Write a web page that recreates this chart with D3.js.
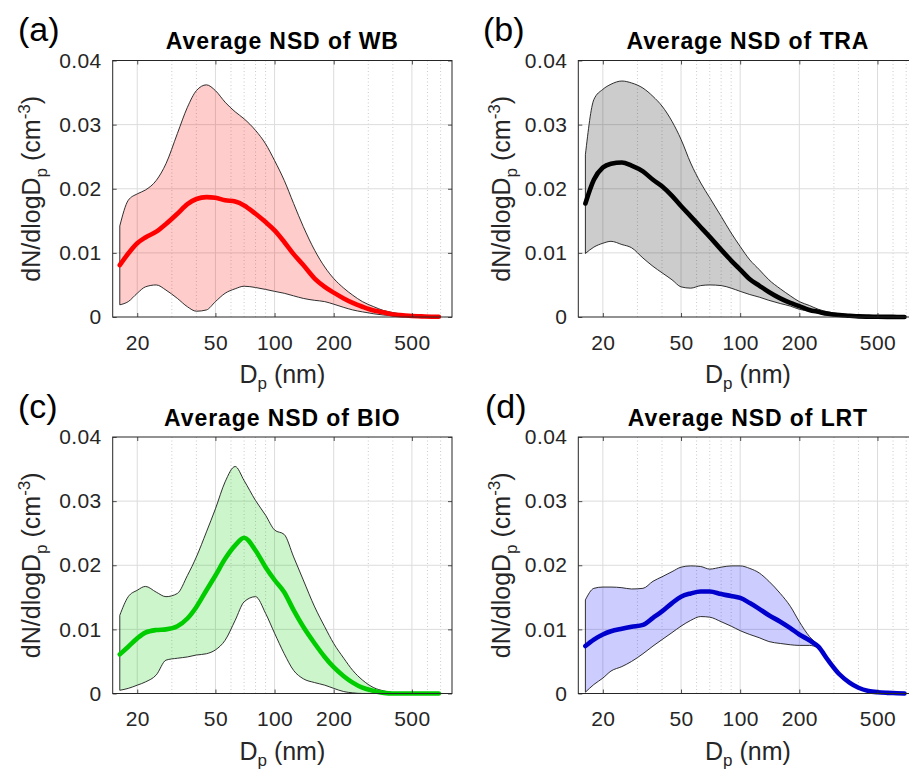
<!DOCTYPE html>
<html>
<head>
<meta charset="utf-8">
<script src="https://cdn.jsdelivr.net/npm/d3@7"></script>
<style>
  body { margin: 0; background: #fff; }
  svg { display: block; font-family: "Liberation Sans", Arial, Helvetica, sans-serif; }
</style>
</head>
<body>
<div id="chart"></div>
<script>
// particle diameter (nm)
const diameters = [16.3, 18, 20, 22, 25, 28, 32, 36, 40, 45, 50, 56, 63, 70, 80, 90, 100, 112, 125, 140,
                   160, 180, 200, 225, 250, 280, 320, 360, 400, 450, 500, 560, 630, 686];

// (a) WB
const wbMean  = [0.0081, 0.0099, 0.0115, 0.0124, 0.0133, 0.0145, 0.0161, 0.0176, 0.0184, 0.0187, 0.0186, 0.0182, 0.0180, 0.0174, 0.0161, 0.0148, 0.0135, 0.0117, 0.0098, 0.0081,
                 0.0060, 0.0047, 0.0038, 0.0029, 0.0022, 0.0016, 0.0010, 0.0007, 0.0004, 0.00026, 0.00015, 0.0001, 0.00005, 0.00003];
const wbUpper = [0.0142, 0.0182, 0.0192, 0.0198, 0.0213, 0.0239, 0.0286, 0.0327, 0.0353, 0.0362, 0.0353, 0.0335, 0.0320, 0.0309, 0.0291, 0.0270, 0.0244, 0.0213, 0.0177, 0.0141,
                 0.0104, 0.0078, 0.0060, 0.0045, 0.0034, 0.0024, 0.0016, 0.0010, 0.0007, 0.0004, 0.0002, 0.0001, 0.00005, 0.00003];
const wbLower = [0.0019, 0.0024, 0.0037, 0.0047, 0.0050, 0.0042, 0.0029, 0.0016, 0.0009, 0.0011, 0.0024, 0.0037, 0.0044, 0.0048, 0.0046, 0.0043, 0.0040, 0.0037, 0.0033, 0.0029,
                 0.0026, 0.0024, 0.0020, 0.0015, 0.0011, 0.0008, 0.0005, 0.0003, 0.0002, 0.0001, 0.00005, 0.00002, 0.00001, 0];

// (b) TRA
const traMean  = [0.0177, 0.0214, 0.0233, 0.0239, 0.0241, 0.0236, 0.0227, 0.0214, 0.0204, 0.0189, 0.0173, 0.0157, 0.0140, 0.0125, 0.0105, 0.0088, 0.0074, 0.0059, 0.0049, 0.0039,
                  0.0029, 0.0022, 0.0017, 0.0011, 0.0008, 0.0005, 0.0003, 0.0002, 0.0001, 0.00006, 0.00004, 0.00002, 0.00001, 0];
const traUpper = [0.0253, 0.0339, 0.0355, 0.0363, 0.0368, 0.0365, 0.0357, 0.0344, 0.0329, 0.0305, 0.0277, 0.0240, 0.0209, 0.0186, 0.0157, 0.0131, 0.0110, 0.0089, 0.0074, 0.0058,
                  0.0044, 0.0033, 0.0024, 0.0018, 0.0012, 0.0008, 0.0005, 0.0003, 0.0002, 0.0001, 0.00005, 0.00003, 0.00002, 0.00001];
const traLower = [0.0099, 0.0109, 0.0115, 0.0118, 0.0113, 0.0108, 0.0092, 0.0079, 0.0069, 0.0058, 0.0047, 0.0045, 0.0049, 0.0050, 0.0049, 0.0045, 0.0040, 0.0035, 0.0031, 0.0026,
                  0.0021, 0.0017, 0.0012, 0.0009, 0.0006, 0.0004, 0.0003, 0.0002, 0.0001, 0.00005, 0.00003, 0.00002, 0.00001, 0];

// (c) BIO
const bioMean  = [0.0061, 0.0073, 0.0086, 0.0095, 0.0099, 0.0100, 0.0105, 0.0117, 0.0135, 0.0161, 0.0184, 0.0210, 0.0231, 0.0243, 0.0223, 0.0197, 0.0177, 0.0158, 0.0130, 0.0104,
                  0.0078, 0.0057, 0.0041, 0.0027, 0.0017, 0.0009, 0.0004, 0.0001, 0, 0, 0, 0, 0, 0];
const bioUpper = [0.0122, 0.0151, 0.0161, 0.0167, 0.0158, 0.0151, 0.0156, 0.0184, 0.0213, 0.0252, 0.0288, 0.0330, 0.0354, 0.0332, 0.0301, 0.0278, 0.0255, 0.0248, 0.0213, 0.0177,
                  0.0135, 0.0104, 0.0078, 0.0055, 0.0036, 0.0021, 0.0009, 0.0004, 0.0001, 0, 0, 0, 0, 0];
const bioLower = [0.0005, 0.0008, 0.0013, 0.0018, 0.0029, 0.0052, 0.0055, 0.0057, 0.0060, 0.0062, 0.0068, 0.0083, 0.0114, 0.0143, 0.0151, 0.0125, 0.0094, 0.0062, 0.0036, 0.0023,
                  0.0017, 0.0013, 0.0008, 0.0003, 0.0001, 0, 0, 0, 0, 0, 0, 0, 0, 0];

// (d) LRT
const lrtMean  = [0.0074, 0.0084, 0.0092, 0.0097, 0.0101, 0.0104, 0.0107, 0.0118, 0.0128, 0.0141, 0.0151, 0.0156, 0.0159, 0.0159, 0.0155, 0.0152, 0.0149, 0.0141, 0.0132, 0.0122,
                  0.0112, 0.0102, 0.0092, 0.0083, 0.0073, 0.0052, 0.0030, 0.0017, 0.0009, 0.0004, 0.0002, 0.0001, 0.00005, 0];
const lrtUpper = [0.0146, 0.0164, 0.0166, 0.0166, 0.0165, 0.0163, 0.0164, 0.0175, 0.0182, 0.0190, 0.0197, 0.0199, 0.0198, 0.0194, 0.0197, 0.0199, 0.0199, 0.0195, 0.0188, 0.0175,
                  0.0156, 0.0136, 0.0112, 0.0089, 0.0075, 0.0054, 0.0032, 0.0019, 0.0010, 0.0005, 0.0003, 0.00015, 0.00005, 0];
const lrtLower = [0.0002, 0.0014, 0.0024, 0.0035, 0.0042, 0.0050, 0.0062, 0.0074, 0.0084, 0.0095, 0.0105, 0.0114, 0.0120, 0.0119, 0.0112, 0.0105, 0.0098, 0.0092, 0.0087, 0.0081,
                  0.0078, 0.0076, 0.0075, 0.0075, 0.0071, 0.0050, 0.0028, 0.0016, 0.0008, 0.0004, 0.0002, 0.0001, 0.00005, 0];

const xTicks = [20, 50, 100, 200, 500];
const xMinorGrid = [30, 40, 60, 70, 80, 90, 300, 400, 600, 700];
const yTicks = [0, 0.01, 0.02, 0.03, 0.04];
const yTickLabels = ["0", "0.01", "0.02", "0.03", "0.04"];

const plotW = 339.3, plotH = 256.5;
const textColor = "#262626";

var panels = [
  {tag: "(a)", title: "Average NSD of WB",  mean: wbMean,  upper: wbUpper,  lower: wbLower,  color: "#ff0000",
   left: 112.7, top: 60.5, tagX: 18, labelX: 40},
  {tag: "(b)", title: "Average NSD of TRA", mean: traMean, upper: traUpper, lower: traLower, color: "#000000",
   left: 578.3, top: 60.5, tagX: 483, labelX: 509.5},
  {tag: "(c)", title: "Average NSD of BIO", mean: bioMean, upper: bioUpper, lower: bioLower, color: "#00cc00",
   left: 112.7, top: 437, tagX: 18, labelX: 40},
  {tag: "(d)", title: "Average NSD of LRT", mean: lrtMean, upper: lrtUpper, lower: lrtLower, color: "#0000cc",
   fill: "#0000ff", left: 578.3, top: 437, tagX: 485, labelX: 509.5}
];

var svg = d3.select("#chart").append("svg")
    .attr("width", 909)
    .attr("height", 769);

var x = d3.scaleLog().domain([15, 800]).range([0, plotW]);
var y = d3.scaleLinear().domain([0, 0.04]).range([plotH, 0]);

function styleAxis(sel) {
    sel.attr("font-size", null).attr("font-family", null);
    sel.select(".domain").remove();
    sel.selectAll(".tick line").attr("stroke", textColor).attr("stroke-width", 0.8);
    sel.selectAll(".tick text")
        .attr("fill", textColor)
        .attr("letter-spacing", 0.4)
        .style("font-size", "21px");
}

panels.forEach(p => {
    var g = svg.append("g")
        .attr("transform", "translate(" + p.left + "," + p.top + ")");

    // grid
    g.selectAll(".minor-grid")
        .data(xMinorGrid)
        .enter()
        .append("line")
        .attr("x1", d => x(d)).attr("x2", d => x(d))
        .attr("y1", 0).attr("y2", plotH)
        .attr("stroke", "#bdbdbd")
        .attr("stroke-width", 0.8)
        .attr("stroke-dasharray", "1,2.5");

    g.selectAll(".major-grid")
        .data(xTicks)
        .enter()
        .append("line")
        .attr("x1", d => x(d)).attr("x2", d => x(d))
        .attr("y1", 0).attr("y2", plotH)
        .attr("stroke", "#dcdcdc")
        .attr("stroke-width", 1);

    g.selectAll(".y-grid")
        .data(yTicks.slice(1, -1))
        .enter()
        .append("line")
        .attr("x1", 0).attr("x2", plotW)
        .attr("y1", d => y(d)).attr("y2", d => y(d))
        .attr("stroke", "#dcdcdc")
        .attr("stroke-width", 1);

    var rows = diameters.map((d, i) => ({d: d, lo: p.lower[i], hi: p.upper[i], m: p.mean[i]}));

    var band = d3.area()
        .x(r => x(r.d))
        .y0(r => y(r.lo))
        .y1(r => y(r.hi))
        .curve(d3.curveMonotoneX);

    g.append("path")
        .datum(rows)
        .attr("d", d => band(d) + "Z")
        .attr("fill", p.fill || p.color)
        .attr("fill-opacity", 0.2)
        .attr("stroke", "#1a1a1a")
        .attr("stroke-width", 0.9)
        .attr("stroke-linejoin", "round");

    var meanLine = d3.line()
        .x(r => x(r.d))
        .y(r => y(r.m))
        .curve(d3.curveMonotoneX);

    g.append("path")
        .datum(rows)
        .attr("d", meanLine)
        .attr("fill", "none")
        .attr("stroke", p.color)
        .attr("stroke-width", 4.6)
        .attr("stroke-linejoin", "round")
        .attr("stroke-linecap", "round");

    // axes (ticks inside, like matlab)
    g.append("g")
        .attr("transform", "translate(0," + plotH + ")")
        .call(d3.axisBottom(x).tickValues(xTicks).tickFormat(d3.format("d")).tickSize(-4).tickPadding(18))
        .call(styleAxis);

    g.append("g")
        .call(d3.axisTop(x).tickValues(xTicks).tickFormat("").tickSize(-4))
        .call(styleAxis);

    g.append("g")
        .call(d3.axisLeft(y).tickValues(yTicks).tickFormat((d, i) => yTickLabels[i]).tickSize(-4).tickPadding(11))
        .call(styleAxis);

    g.append("g")
        .attr("transform", "translate(" + plotW + ",0)")
        .call(d3.axisRight(y).tickValues(yTicks).tickFormat("").tickSize(-4))
        .call(styleAxis);

    g.append("rect")
        .attr("width", plotW)
        .attr("height", plotH)
        .attr("fill", "none")
        .attr("stroke", textColor)
        .attr("stroke-width", 1);

    // title
    g.append("text")
        .attr("x", plotW / 2)
        .attr("y", -11.5)
        .attr("text-anchor", "middle")
        .attr("font-weight", "bold")
        .attr("font-size", 23)
        .attr("letter-spacing", 0.9)
        .attr("fill", "#000")
        .text(p.title);

    // x label: D_p (nm)
    var xl = g.append("text")
        .attr("x", plotW / 2)
        .attr("y", plotH + 66)
        .attr("text-anchor", "middle")
        .attr("font-size", 25)
        .attr("fill", textColor);
    xl.append("tspan").text("D");
    xl.append("tspan").attr("font-size", 17).attr("dy", 6).text("p");
    xl.append("tspan").attr("dy", -6).text(" (nm)");

    // panel tag
    svg.append("text")
        .attr("x", p.tagX)
        .attr("y", p.top - 19.5)
        .attr("font-size", 34)
        .attr("fill", "#000")
        .text(p.tag);

    // y label: dN/dlogD_p (cm^-3)
    var yl = svg.append("text")
        .attr("transform", "translate(" + p.labelX + "," + (p.top + plotH / 2) + ") rotate(-90)")
        .attr("text-anchor", "middle")
        .attr("font-size", 25)
        .attr("fill", textColor);
    yl.append("tspan").text("dN/dlogD");
    yl.append("tspan").attr("font-size", 17).attr("dy", 7).text("p");
    yl.append("tspan").attr("dy", -7).text(" (cm");
    yl.append("tspan").attr("font-size", 17).attr("dy", -10).text("-3");
    yl.append("tspan").attr("dy", 10).text(")");
});
</script>
</body>
</html>
